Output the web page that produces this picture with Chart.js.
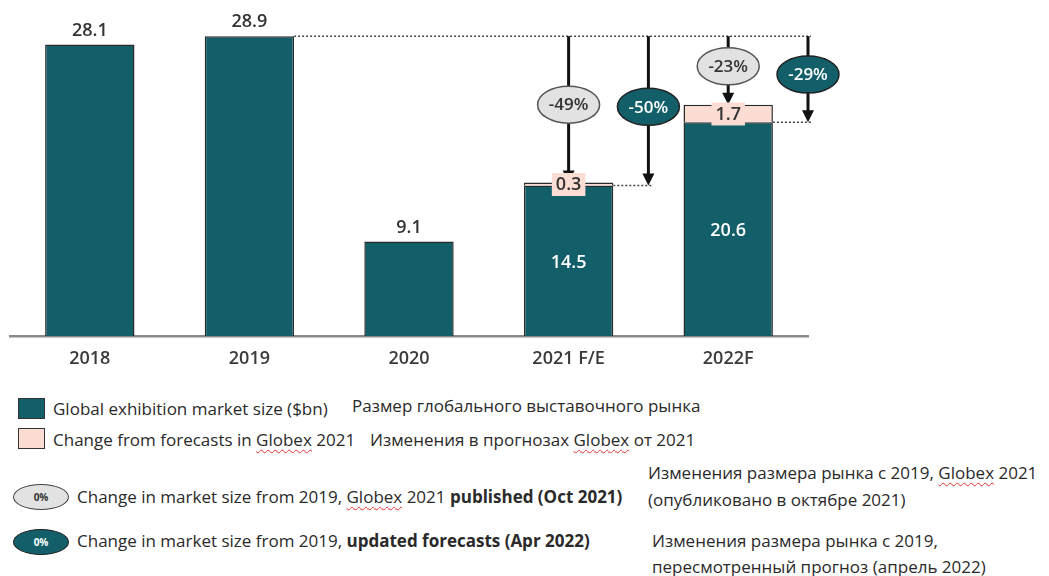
<!DOCTYPE html>
<html>
<head>
<meta charset="utf-8">
<script src="https://cdn.jsdelivr.net/npm/chart.js@4/dist/chart.umd.min.js"></script>
<style>
  html, body { margin: 0; padding: 0; background: #fff; }
  body { width: 1049px; height: 576px; position: relative; overflow: hidden; font-family: "Open Sans", sans-serif; color: #2a2a2a; }
  #wrap { position: absolute; left: 0; top: 0; width: 1049px; height: 380px; }
  .t { position: absolute; white-space: nowrap; font-size: 17px; line-height: 22px; }
  .sq { position: absolute; width: 25px; height: 19px; border: 1.5px solid #333; }
  .el { position: absolute; width: 54px; height: 24px; border: 1.5px solid #444; border-radius: 50%; font-size: 10px; font-weight: 700; text-align: center; line-height: 24px; }
  .sp { text-decoration: underline wavy #e03030; text-decoration-thickness: 1px; text-underline-offset: 3px; }
  b { font-weight: 700; }
</style>
</head>
<body>
<div id="wrap"><canvas id="c" width="1049" height="380"></canvas></div>

<div class="sq" style="left:18px;top:398px;background:#125F69;"></div>
<div class="t" style="left:53px;top:398px;">Global exhibition market size ($bn)</div>
<div class="t" style="left:352px;top:395px;">Размер глобального выставочного рынка</div>

<div class="sq" style="left:18px;top:428px;background:#FCDDD3;"></div>
<div class="t" style="left:53px;top:429px;">Change from forecasts in <span class="sp">Globex</span> 2021</div>
<div class="t" style="left:370px;top:429px;">Изменения в прогнозах <span class="sp">Globex</span> от 2021</div>

<div class="el" style="left:13px;top:484px;background:#E2E2E2;color:#333;">0%</div>
<div class="t" style="left:77px;top:486px;">Change in market size from 2019, <span class="sp">Globex</span> 2021 <b>published (Oct 2021)</b></div>

<div class="el" style="left:13px;top:529px;background:#125F69;color:#fff;border-color:#222;">0%</div>
<div class="t" style="left:77px;top:530px;">Change in market size from 2019, <b>updated forecasts (Apr 2022)</b></div>

<div class="t" style="left:648px;top:462px;">Изменения размера рынка с 2019, <span class="sp">Globex</span> 2021</div>
<div class="t" style="left:648px;top:489px;">(опубликовано в октябре 2021)</div>
<div class="t" style="left:652px;top:530px;">Изменения размера рынка с 2019,</div>
<div class="t" style="left:652px;top:556px;">пересмотренный прогноз (апрель 2022)</div>

<script>
// ---- data ----
const categories = ['2018', '2019', '2020', '2021 F/E', '2022F'];
const marketSize = [28.1, 28.9, 9.1, 14.5, 20.6];          // Global exhibition market size ($bn)
const forecastChange = [0, 0, 0, 0.3, 1.7];                  // Change from forecasts in Globex 2021
const publishedChange = [null, null, null, '-49%', '-23%'];  // vs 2019, Globex 2021 published (Oct 2021)
const updatedChange = [null, null, null, '-50%', '-29%'];    // vs 2019, updated forecasts (Apr 2022)

// ---- style ----
const TEAL = '#125F69';
const PINK = '#FCDDD3';
const GREY = '#E2E2E2';
const FONT = '"Open Sans", sans-serif';
// bubble centre heights, in value units
const pubBubbleAt = [null, null, null, 22.3, 26.0];
const updBubbleAt = [null, null, null, 22.1, 25.2];

function arrowDown(ctx, x, y1, y2, head) {
  ctx.save();
  ctx.strokeStyle = '#111';
  ctx.fillStyle = '#111';
  ctx.lineWidth = 3;
  ctx.beginPath();
  ctx.moveTo(x, y1);
  ctx.lineTo(x, head ? y2 - 10 : y2);
  ctx.stroke();
  if (head) {
    ctx.beginPath();
    ctx.moveTo(x - 6, y2 - 12);
    ctx.lineTo(x + 6, y2 - 12);
    ctx.lineTo(x, y2);
    ctx.closePath();
    ctx.fill();
  }
  ctx.restore();
}
function dotted(ctx, x1, y, x2) {
  ctx.save();
  ctx.strokeStyle = '#444';
  ctx.lineWidth = 1.5;
  ctx.setLineDash([2, 2]);
  ctx.beginPath();
  ctx.moveTo(x1, y);
  ctx.lineTo(x2, y);
  ctx.stroke();
  ctx.restore();
}
function bubble(ctx, x, y, text, fill, color, stroke) {
  ctx.save();
  ctx.beginPath();
  ctx.ellipse(x, y, 31, 18.5, 0, 0, Math.PI * 2);
  ctx.fillStyle = fill;
  ctx.fill();
  ctx.lineWidth = 1.5;
  ctx.strokeStyle = stroke;
  ctx.stroke();
  ctx.fillStyle = color;
  ctx.font = '600 17px ' + FONT;
  ctx.textAlign = 'center';
  ctx.textBaseline = 'middle';
  ctx.fillText(text, x, y + 1);
  ctx.restore();
}

const annotations = {
  id: 'annotations',
  afterDatasetsDraw(chart) {
    const ctx = chart.ctx;
    const xs = chart.scales.x, ys = chart.scales.y;
    const base = chart.getDatasetMeta(0).data;
    const yTop = ys.getPixelForValue(marketSize[1]);
    const xEnd = xs.getPixelForValue(4.5);
    // reference line at 2019 level
    dotted(ctx, base[1].x + base[1].width / 2, yTop, xEnd + 3);

    for (let i = 0; i < categories.length; i++) {
      const bar = base[i];
      const total = marketSize[i] + forecastChange[i];
      if (publishedChange[i]) {
        const x = xs.getPixelForValue(i);
        arrowDown(ctx, x, yTop, ys.getPixelForValue(total), true);
        bubble(ctx, x, ys.getPixelForValue(pubBubbleAt[i]), publishedChange[i], GREY, '#333', '#555');
      }
      if (updatedChange[i]) {
        const x = xs.getPixelForValue(i + 0.5);
        const yv = ys.getPixelForValue(marketSize[i]);
        dotted(ctx, bar.x + bar.width / 2, yv, x + 4);
        arrowDown(ctx, x, yTop, yv, true);
        bubble(ctx, x, ys.getPixelForValue(updBubbleAt[i]), updatedChange[i], TEAL, '#fff', '#222');
      }
    }

    // value labels
    ctx.save();
    ctx.font = '600 18px ' + FONT;
    ctx.textAlign = 'center';
    ctx.textBaseline = 'middle';
    for (let i = 0; i < categories.length; i++) {
      const bar = base[i];
      if (forecastChange[i] > 0) {
        ctx.fillStyle = '#fff';
        ctx.fillText(marketSize[i].toFixed(1), bar.x, (bar.y + bar.base) / 2 + 2);
        const yc = (ys.getPixelForValue(marketSize[i]) + ys.getPixelForValue(marketSize[i] + forecastChange[i])) / 2;
        const lab = forecastChange[i].toFixed(1);
        const w = ctx.measureText(lab).width + 8;
        ctx.fillStyle = PINK;
        ctx.fillRect(bar.x - w / 2, yc - 11, w, 23);
        ctx.fillStyle = '#333';
        ctx.fillText(lab, bar.x, yc + 1);
      } else {
        ctx.fillStyle = '#333';
        ctx.fillText(marketSize[i].toFixed(1), bar.x, bar.y - 14);
      }
    }
    ctx.restore();
  }
};

new Chart(document.getElementById('c'), {
  type: 'bar',
  data: {
    labels: categories,
    datasets: [
      { label: 'Global exhibition market size ($bn)', data: marketSize, backgroundColor: TEAL, borderColor: '#2a2a2a', borderWidth: 1.5 },
      { label: 'Change from forecasts in Globex 2021', data: forecastChange, backgroundColor: PINK, borderColor: '#2a2a2a', borderWidth: 1.5 }
    ]
  },
  options: {
    responsive: false,
    animation: false,
    devicePixelRatio: 1,
    layout: { padding: { left: 10, right: 241, top: 4, bottom: 0 } },
    datasets: { bar: { barPercentage: 0.56, categoryPercentage: 1 } },
    plugins: { legend: { display: false }, tooltip: { enabled: false } },
    scales: {
      x: {
        stacked: true,
        grid: { display: true, drawOnChartArea: false, drawTicks: false },
        border: { display: true, color: '#8a8a8a', width: 2.5 },
        ticks: { color: '#3a3a3a', font: { family: FONT, size: 18, weight: '600' }, padding: 12 },
        afterFit(scale) { scale.height = 44; }
      },
      y: {
        stacked: true,
        display: false,
        min: 0,
        max: 32
      }
    }
  },
  plugins: [annotations]
});
</script>
</body>
</html>
